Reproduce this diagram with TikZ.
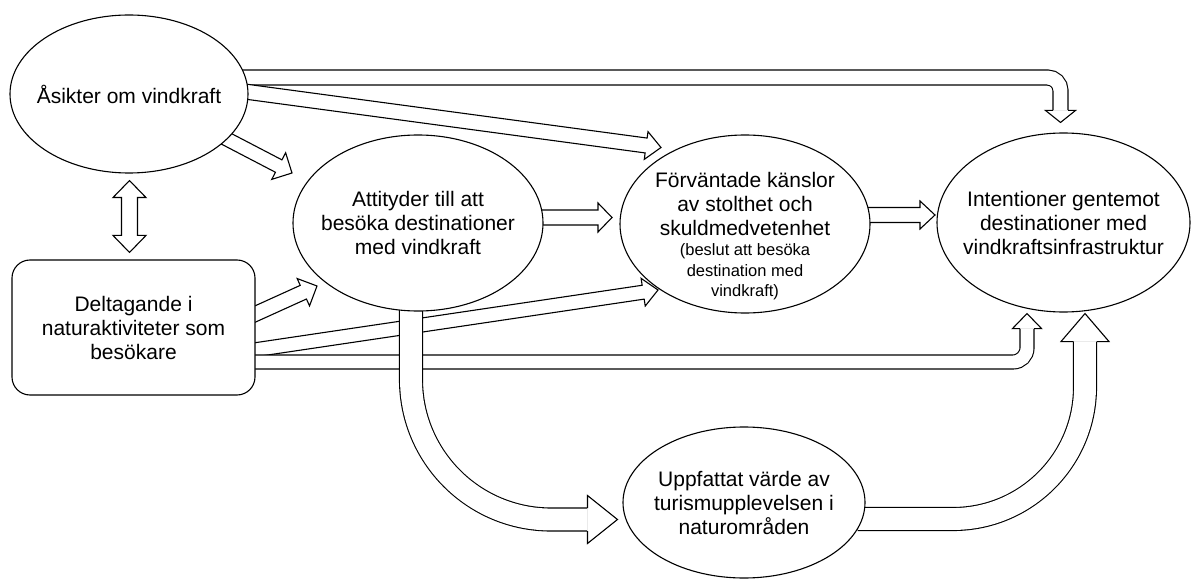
\documentclass[tikz,border=0pt]{standalone}
\usepackage{fontspec}
\setmainfont{Liberation Sans}
\usetikzlibrary{calc,shapes.geometric}
\pgfdeclarelayer{bg}
\pgfsetlayers{bg,main}
\newcommand\bigtxt{\fontsize{21}{24}\selectfont}
\newcommand\smalltxt{\fontsize{16.5}{20.5}\selectfont}
\tikzset{
  ell/.style={ellipse, draw, fill=white, line width=1.1pt, inner sep=0pt},
  boxnode/.style={rectangle, rounded corners=18pt, draw, fill=white, line width=1.1pt, inner sep=0pt},
  txt/.style={inner sep=0pt, align=center, font=\bigtxt},
  arr/.style={draw, fill=white, line width=1.1pt, line join=miter},
  headarr/.style={draw, fill=white, line width=1.1pt, line join=miter, line cap=square},
  shaftline/.style={line width=1.1pt, double=white, double distance=#1},
}
% straight block arrow: start, tip, half shaft, half head, head length
\newcommand\sarrow[5]{%
  \coordinate (hb) at ($(#2)!#5pt!(#1)$);
  \filldraw[arr] ($(#1)!#3pt!90:(#2)$) -- ($(hb)!#3pt!90:(#2)$) -- ($(hb)!#4pt!90:(#2)$) -- (#2)
     -- ($(hb)!#4pt!-90:(#2)$) -- ($(hb)!#3pt!-90:(#2)$) -- ($(#1)!#3pt!-90:(#2)$);
}
% head only: base, tip, half shaft, half head
\newcommand\ahead[4]{%
  \filldraw[headarr] ($(#1)!#3pt!90:(#2)$) -- ($(#1)!#4pt!90:(#2)$) -- (#2)
     -- ($(#1)!#4pt!-90:(#2)$) -- ($(#1)!#3pt!-90:(#2)$);
}
\begin{document}
\begin{tikzpicture}[x=1pt,y=-1pt]
\useasboundingbox (0,0) rectangle (1191,585);

% nodes
\node[ell, minimum width=238pt, minimum height=158pt] (A) at (129,94) {};
\node[txt] (At) at (A) {Åsikter om vindkraft};
\node[ell, minimum width=250pt, minimum height=176pt] (B) at (418,223) {};
\node[txt] (Bt) at (B) {Attityder till att\\besöka destinationer\\med vindkraft};
\node[ell, minimum width=250pt, minimum height=178pt] (C) at (745,224) {};
\node[txt] (Cbig) at ($(C)+(0,-20)$) {Förväntade känslor\\av stolthet och\\skuldmedvetenhet};
\node[txt, font=\smalltxt] (Csmall) at ($(C)+(0,48)$) {(beslut att besöka\\destination med\\vindkraft)};
\node[ell, minimum width=253pt, minimum height=179pt] (D) at (1063.5,222.5) {};
\node[txt] (Dt) at (D) {Intentioner gentemot\\destinationer med\\vindkraftsinfrastruktur};
\node[ell, minimum width=242pt, minimum height=151pt] (E) at (744,502.5) {};
\node[txt] (Et) at (E) {Uppfattat värde av\\turismupplevelsen i\\naturområden};
\node[boxnode, minimum width=243pt, minimum height=135pt] (F) at (133.5,327.5) {};
\node[txt] (Ft) at (F) {Deltagande i\\naturaktiviteter som\\besökare};

\begin{pgfonlayer}{bg}
% A -> D (bent)
\coordinate (ad0) at ($(A.east)+(-9,-16.5)$);
\coordinate (adt) at ($(D.north)+(-3,-10)$);
\coordinate (adb) at ($(adt)+(0,-12)$);
\draw[shaftline=13.9pt, rounded corners=13pt] (ad0) -| (adb);
\ahead{adb}{adt}{7.5}{15}

% A -> C
\coordinate (ac0) at ($(A)+(112,-3)$);
\coordinate (act) at ($(C)+(-84,-76.5)$);
\sarrow{ac0}{act}{7.5}{14}{15}

% A -> B
\coordinate (ab0) at ($(A)+(92,42)$);
\coordinate (abt) at ($(B)+(-126,-50)$);
\sarrow{ab0}{abt}{7}{15}{15}

% A <-> F
\coordinate (t1) at ($(A.south)+(0.5,7)$);
\coordinate (t2) at ($(F.north)+(-4,-7)$);
\filldraw[arr] (t1) -- ($(t1)+(16.5,17)$) -- ($(t1)+(8,17)$) -- ($(t2)+(8,-17)$) -- ($(t2)+(16.5,-17)$) -- (t2)
  -- ($(t2)+(-16.5,-17)$) -- ($(t2)+(-8,-17)$) -- ($(t1)+(-8,17)$) -- ($(t1)+(-16.5,17)$) -- cycle;

% B -> C
\coordinate (bc0) at ($(B)+(119,-5.5)$);
\coordinate (bct) at ($(C)+(-133,-6.5)$);
\sarrow{bc0}{bct}{7.5}{14.5}{14}

% C -> D
\coordinate (cd0) at ($(C)+(117,-9)$);
\coordinate (cdt) at ($(D)+(-128.5,-7.5)$);
\sarrow{cd0}{cdt}{7.5}{14}{15}

% F -> B
\coordinate (fb0) at ($(F)+(114,-10)$);
\coordinate (fbt) at ($(B)+(-101,63)$);
\sarrow{fb0}{fbt}{7.5}{15}{15}

% F -> C
\coordinate (fc0) at ($(F)+(113.5,23.5)$);
\coordinate (fct) at ($(C)+(-87,66)$);
\sarrow{fc0}{fct}{7}{14}{15}

% F -> D (bent)
\coordinate (fd0) at ($(F.east)+(-8,34.5)$);
\coordinate (fdt) at ($(D.south)+(-36.5,1)$);
\coordinate (fdb) at ($(fdt)+(0,15)$);
\draw[shaftline=12.9pt, rounded corners=14pt] (fd0) -| (fdb);
\ahead{fdb}{fdt}{7}{14.5}

% B -> E (curved)
\coordinate (be0) at ($(B.south)+(-7,-10)$);
\coordinate (bet) at ($(E.west)+(-5,17)$);
\coordinate (beb) at ($(bet)+(-30,0)$);
\draw[shaftline=21.9pt, rounded corners=140pt] (be0) |- (beb);
\ahead{beb}{bet}{11.5}{24}

% E -> D (curved)
\coordinate (ed0) at ($(E.east)+(-8,16.5)$);
\coordinate (edt) at ($(D.south)+(21.5,1)$);
\coordinate (edb) at ($(edt)+(0,28)$);
\draw[shaftline=21.9pt, rounded corners=132pt] (ed0) -| (edb);
\ahead{edb}{edt}{11.5}{24}
\end{pgfonlayer}
\end{tikzpicture}
\end{document}
